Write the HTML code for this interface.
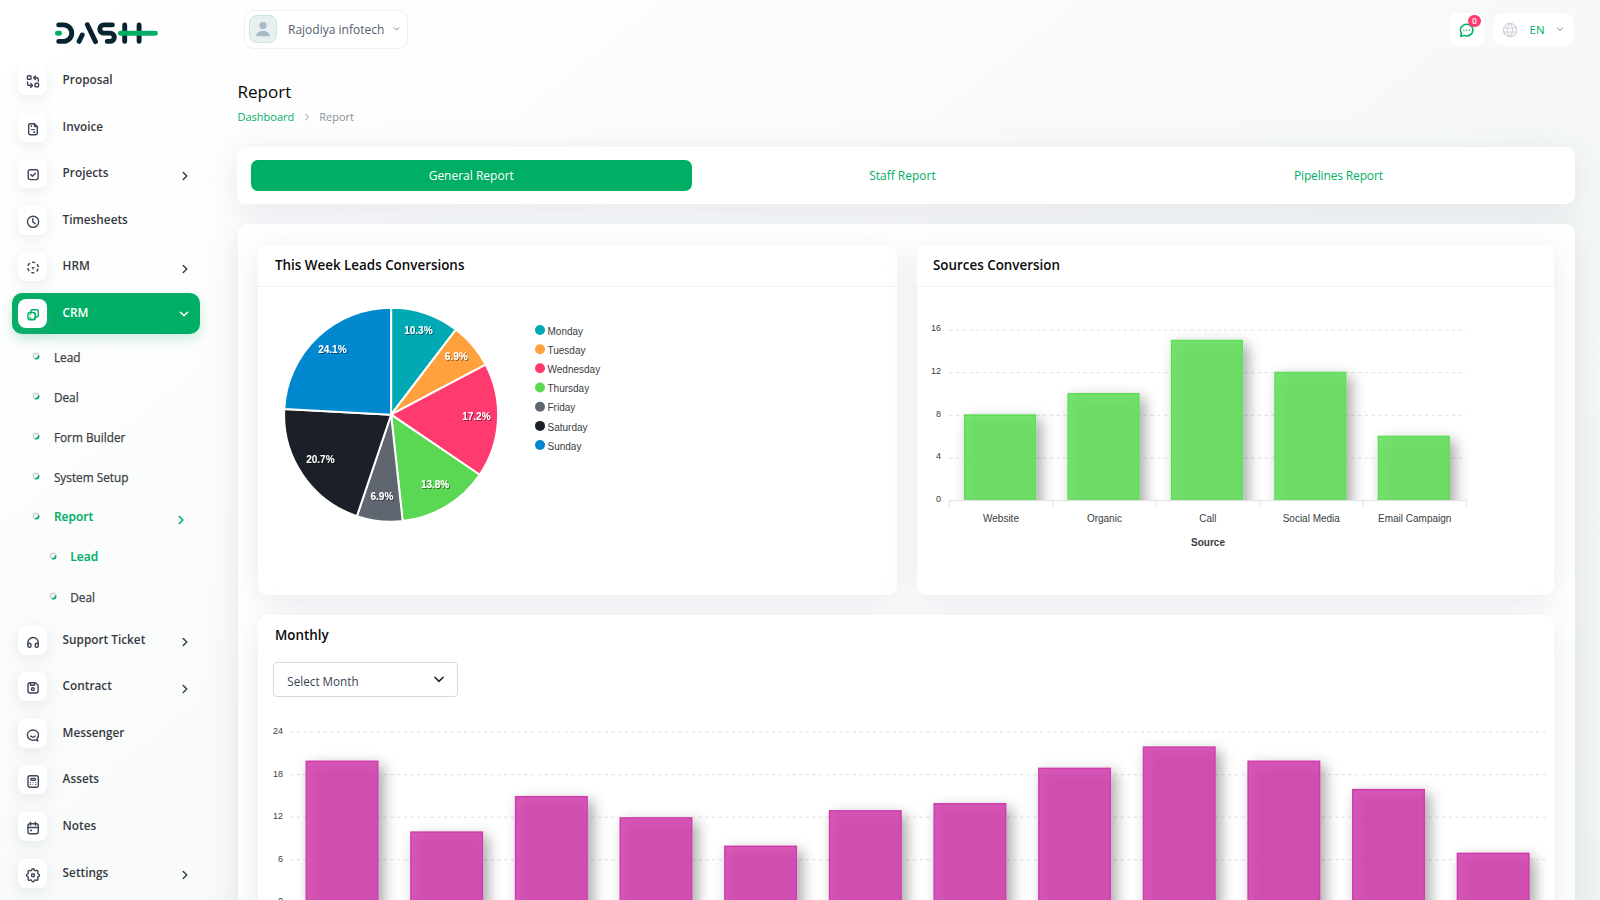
<!DOCTYPE html>
<html lang="en">
<head>
<meta charset="utf-8">
<title>Report</title>
<style>
*{box-sizing:border-box;margin:0;padding:0}
html,body{width:1600px;height:900px;overflow:hidden}
body{position:relative;background:#fff;font-family:"Open Sans","Liberation Sans",sans-serif;color:#293240;font-size:12px}
.bg{position:absolute;left:0;top:0;width:1600px;height:900px;background:linear-gradient(141.55deg,rgba(240,244,243,0) 3.46%,#f0f4f3 99.86%)}
.abs{position:absolute}
.logo{position:absolute;left:50px;top:15px}
.mi{position:absolute;left:12px;width:188px;height:41px;border-radius:10px}
.mi .ib{position:absolute;left:6px;top:6px;width:29px;height:29px;border-radius:8px;background:#fff;box-shadow:0 4px 15px rgba(150,160,170,.2)}
.mi .ib svg{position:absolute;left:0;top:0}
.mi .tx{position:absolute;left:50.6px;top:-1.0px;line-height:41px;font-size:11.8px;font-weight:600;color:#36393e;white-space:nowrap}
.mi .ch{position:absolute;left:166px;top:15.7px}
.mi.act{background:#00ae65;box-shadow:0 5px 12px rgba(0,174,101,.2)}
.mi.act .tx{color:#fff}
.mi.act .ch{left:164.7px;top:14.1px}
.si{position:absolute;height:20px;line-height:20px;font-size:11.8px;font-weight:400;color:#3b3e42;white-space:nowrap;-webkit-text-stroke:.25px currentColor}
.si .dot{position:absolute;left:0;top:4.9px;width:8px;height:8px}
.si .tx{position:absolute;top:0}
.si.g{color:#00ae65;font-weight:600;font-size:12px;-webkit-text-stroke:.15px currentColor}
.hbox{position:absolute;background:#fff;border-radius:10px}
.card{position:absolute;background:#fff;border-radius:9px}
.sh{box-shadow:0 6px 30px rgba(182,186,203,.3)}
.sh2{box-shadow:0 6px 30px rgba(182,186,203,.3)}
.card .hd{position:absolute;left:0;right:0;top:0;height:42px;border-bottom:1px solid #f1f1f1}
.card .ttl{position:absolute;left:17px;font-size:13.4px;font-weight:600;color:#0b0b0b;white-space:nowrap}
</style>
</head>
<body>
<div class="bg"></div>
<svg class="logo" width="112" height="34" viewBox="50 15 112 34" aria-label="Dash">
  <title>Dash</title>
  <g fill="none" stroke-linecap="round" stroke-width="4.9">
    <path d="M57.4 33.2h2.2" stroke="#00ae65"/>
    <path d="M58.7 24.9h4.8a8.25 8.25 0 0 1 0 16.5h-4.8" stroke="#082431"/>
    <path d="M79.1 41.4l3.1-6.4M87.4 24.7l8.1 16.9" stroke="#082431"/>
    <path d="M112.4 24.9h-8.5a4.1 4.1 0 0 0 0 8.2h6.2a4.15 4.15 0 0 1 0 8.3h-2.9" stroke="#082431"/>
    <path d="M124.7 24.9v16.5M139.1 24.9v16.5" stroke="#082431"/>
    <path d="M120.4 33.3h35" stroke="#00ae65"/>
  </g>
</svg>
<div class="abs" style="left:0;top:0;width:240px;height:900px;clip-path:inset(66.3px 0 0 0)">
<div class="mi" style="top:60px"><div class="ib"><svg width="30" height="30" viewBox="0 0 30 30" fill="none" stroke="#3d4757" stroke-width="1.4" stroke-linecap="round" stroke-linejoin="round"><rect x="9.4" y="9.7" width="3.6" height="3.6" rx=".8"/><rect x="17" y="17.2" width="3.6" height="3.6" rx=".8"/><path d="M20.3 15.2V13.2a1.5 1.5 0 0 0-1.5-1.5H16M17.5 9.9L15.7 11.7L17.5 13.5"/><path d="M9.6 16V18a1.5 1.5 0 0 0 1.5 1.5H14.5M12.8 17.6L14.6 19.4L12.8 21.2"/></svg></div><div class="tx">Proposal</div></div>
<div class="mi" style="top:106.6px"><div class="ib"><svg width="30" height="30" viewBox="0 0 30 30" fill="none" stroke="#3d4757" stroke-width="1.4" stroke-linecap="round" stroke-linejoin="round"><path d="M17.2 21.8H12.3a1.6 1.6 0 0 1-1.6-1.6V12.3a1.6 1.6 0 0 1 1.6-1.6H16.4L19.3 13.6V20.2a1.6 1.6 0 0 1-1.6 1.6Z"/><path d="M16.4 10.8v2.2a.6 .6 0 0 0 .6 .6h2.2"/><path d="M13.3 12.8v.6M15.6 19.3h1.2"/><rect x="13" y="16.1" width="4" height="1.1" fill="#3d4757" stroke="none"/></svg></div><div class="tx">Invoice</div></div>
<div class="mi" style="top:153.2px"><div class="ib"><svg width="30" height="30" viewBox="0 0 30 30" fill="none" stroke="#3d4757" stroke-width="1.4" stroke-linecap="round" stroke-linejoin="round"><rect x="10.2" y="10.7" width="9.9" height="9.9" rx="2"/><path d="M12.8 15.6L14.4 17.2L17.4 14.2"/></svg></div><div class="tx">Projects</div><svg class="ch" width="14" height="14" viewBox="0 0 24 24" fill="none" stroke="#3a4250" stroke-width="2.6" stroke-linecap="round" stroke-linejoin="round"><path d="M9 6l6 6l-6 6"/></svg></div>
<div class="mi" style="top:199.8px"><div class="ib"><svg width="30" height="30" viewBox="0 0 30 30" fill="none" stroke="#3d4757" stroke-width="1.4" stroke-linecap="round" stroke-linejoin="round"><circle cx="15.05" cy="15.8" r="5.6"/><path d="M14.8 12.6V15.9L17.2 17.8"/></svg></div><div class="tx">Timesheets</div></div>
<div class="mi" style="top:246.4px"><div class="ib"><svg width="30" height="30" viewBox="0 0 30 30" fill="none" stroke="#3d4757" stroke-width="1.4" stroke-linecap="round" stroke-linejoin="round"><circle cx="15" cy="15.4" r="5.25" stroke-dasharray="3.1 2.4" stroke-dashoffset="-1.2" stroke-linecap="butt" stroke-width="1.5"/><path d="M13.1 14.9h3.8l-1.3 1.4v1.3h-1.2v-1.3z" fill="#3d4757" stroke="none"/></svg></div><div class="tx">HRM</div><svg class="ch" width="14" height="14" viewBox="0 0 24 24" fill="none" stroke="#3a4250" stroke-width="2.6" stroke-linecap="round" stroke-linejoin="round"><path d="M9 6l6 6l-6 6"/></svg></div>
<div class="mi" style="top:619.5px"><div class="ib"><svg width="30" height="30" viewBox="0 0 30 30" fill="none" stroke="#3d4757" stroke-width="1.4" stroke-linecap="round" stroke-linejoin="round"><path d="M9.9 18.8V16.7a5.2 5.2 0 0 1 10.4 0V18.8"/><rect x="9.9" y="17.3" width="3.1" height="4" rx="1.4"/><rect x="17.2" y="17.3" width="3.1" height="4" rx="1.4"/></svg></div><div class="tx">Support Ticket</div><svg class="ch" width="14" height="14" viewBox="0 0 24 24" fill="none" stroke="#3a4250" stroke-width="2.6" stroke-linecap="round" stroke-linejoin="round"><path d="M9 6l6 6l-6 6"/></svg></div>
<div class="mi" style="top:666.1px"><div class="ib"><svg width="30" height="30" viewBox="0 0 30 30" fill="none" stroke="#3d4757" stroke-width="1.4" stroke-linecap="round" stroke-linejoin="round"><path d="M12 10.7H17.5L20.1 13.3V19a2 2 0 0 1-2 2H12a2 2 0 0 1-2-2V12.7a2 2 0 0 1 2-2Z"/><path d="M12.5 10.8V13.2H16.5V10.8"/><circle cx="14.9" cy="17.2" r="1.4"/></svg></div><div class="tx">Contract</div><svg class="ch" width="14" height="14" viewBox="0 0 24 24" fill="none" stroke="#3a4250" stroke-width="2.6" stroke-linecap="round" stroke-linejoin="round"><path d="M9 6l6 6l-6 6"/></svg></div>
<div class="mi" style="top:712.7px"><div class="ib"><svg width="30" height="30" viewBox="0 0 30 30" fill="none" stroke="#3d4757" stroke-width="1.4" stroke-linecap="round" stroke-linejoin="round"><path d="M16.8 20.9A5.6 5.1 0 1 1 18.9 19.7L20 21.8Z"/><path d="M12.6 17.1Q14.9 19.3 17.3 17.1"/></svg></div><div class="tx">Messenger</div></div>
<div class="mi" style="top:759.3px"><div class="ib"><svg width="30" height="30" viewBox="0 0 30 30" fill="none" stroke="#3d4757" stroke-width="1.4" stroke-linecap="round" stroke-linejoin="round"><rect x="10" y="10.7" width="10.3" height="11.6" rx="2"/><rect x="12.7" y="13.4" width="4.9" height="1.8" rx=".9"/><g fill="#3d4757" stroke="none"><circle cx="12.4" cy="17.5" r=".6"/><circle cx="17.6" cy="17.5" r=".6"/><circle cx="12.4" cy="19.4" r=".6"/><circle cx="17.6" cy="19.4" r=".6"/></g><path d="M14.6 17.5h1M14.6 19.4h1" stroke-width=".8" stroke="#9aa1ab"/></svg></div><div class="tx">Assets</div></div>
<div class="mi" style="top:805.9px"><div class="ib"><svg width="30" height="30" viewBox="0 0 30 30" fill="none" stroke="#3d4757" stroke-width="1.4" stroke-linecap="round" stroke-linejoin="round"><rect x="10" y="11.8" width="10.3" height="10" rx="2"/><path d="M12.5 10.3V13.2M17.5 10.3V13.2M10 15.5H20.3"/><rect x="12.1" y="17.6" width="1.9" height="1.7" rx=".4" fill="#3d4757" stroke="none"/></svg></div><div class="tx">Notes</div></div>
<div class="mi" style="top:852.5px"><div class="ib"><svg width="30" height="30" viewBox="0 0 30 30" fill="none" stroke="#3d4757" stroke-width="1.4" stroke-linecap="round" stroke-linejoin="round"><g transform="translate(15 16.3) scale(.72) translate(-12 -12)" stroke-width="1.95"><path d="M10.3 4.3c.4-1.8 2.9-1.8 3.4 0a1.7 1.7 0 0 0 2.6 1.1c1.5-.9 3.3.8 2.4 2.4a1.7 1.7 0 0 0 1 2.5c1.8.4 1.8 2.9 0 3.4a1.7 1.7 0 0 0-1 2.6c.9 1.5-.8 3.3-2.4 2.4a1.7 1.7 0 0 0-2.6 1c-.4 1.8-2.9 1.8-3.4 0a1.7 1.7 0 0 0-2.6-1c-1.5.9-3.3-.8-2.4-2.4a1.7 1.7 0 0 0-1-2.6c-1.8-.4-1.8-2.9 0-3.4a1.7 1.7 0 0 0 1-2.5c-.9-1.5.8-3.3 2.4-2.4a1.7 1.7 0 0 0 2.6-1.1"/><circle cx="12" cy="12" r="2.1"/></g></svg></div><div class="tx">Settings</div><svg class="ch" width="14" height="14" viewBox="0 0 24 24" fill="none" stroke="#3a4250" stroke-width="2.6" stroke-linecap="round" stroke-linejoin="round"><path d="M9 6l6 6l-6 6"/></svg></div>
<div class="mi act" style="top:293px"><div class="ib"><svg width="30" height="30" viewBox="0 0 30 30" fill="none" stroke="#00ae65" stroke-width="1.4" stroke-linecap="round" stroke-linejoin="round"><path d="M12.7 13.3V12.7a2 2 0 0 1 2-2H18.3a2 2 0 0 1 2 2V16a2 2 0 0 1-2 2H17.4"/><rect x="10" y="13.4" width="7.4" height="7.4" rx="2"/><path d="M12.1 14.6h1.5l-1.5 1.5zM16.9 14.6h-1.5l1.5 1.5zM12.1 19.4h1.5l-1.5-1.5zM16.9 19.4h-1.5l1.5-1.5z" fill="#00ae65" stroke-width=".5"/></svg></div><div class="tx">CRM</div><svg class="ch" width="14" height="14" viewBox="0 0 24 24" fill="none" stroke="#fff" stroke-width="2.6" stroke-linecap="round" stroke-linejoin="round"><path d="M6 9l6 6l6-6"/></svg></div>
<div class="si" style="top:347.1px;left:31.8px"><svg class="dot" width="8" height="8" viewBox="0 0 8 8"><circle cx="4" cy="4" r="2.7" fill="none" stroke="#cdd2da" stroke-width="1.5"/><path d="M6.7 4A2.7 2.7 0 0 1 4 6.7" fill="none" stroke="#00ae65" stroke-width="1.7" stroke-linecap="round"/></svg><span class="tx" style="left:22.1px">Lead</span></div>
<div class="si" style="top:387.1px;left:31.8px"><svg class="dot" width="8" height="8" viewBox="0 0 8 8"><circle cx="4" cy="4" r="2.7" fill="none" stroke="#cdd2da" stroke-width="1.5"/><path d="M6.7 4A2.7 2.7 0 0 1 4 6.7" fill="none" stroke="#00ae65" stroke-width="1.7" stroke-linecap="round"/></svg><span class="tx" style="left:22.1px">Deal</span></div>
<div class="si" style="top:427.1px;left:31.8px"><svg class="dot" width="8" height="8" viewBox="0 0 8 8"><circle cx="4" cy="4" r="2.7" fill="none" stroke="#cdd2da" stroke-width="1.5"/><path d="M6.7 4A2.7 2.7 0 0 1 4 6.7" fill="none" stroke="#00ae65" stroke-width="1.7" stroke-linecap="round"/></svg><span class="tx" style="left:22.1px">Form Builder</span></div>
<div class="si" style="top:467.1px;left:31.8px"><svg class="dot" width="8" height="8" viewBox="0 0 8 8"><circle cx="4" cy="4" r="2.7" fill="none" stroke="#cdd2da" stroke-width="1.5"/><path d="M6.7 4A2.7 2.7 0 0 1 4 6.7" fill="none" stroke="#00ae65" stroke-width="1.7" stroke-linecap="round"/></svg><span class="tx" style="left:22.1px">System Setup</span></div>
<div class="si g" style="top:507.1px;left:31.8px"><svg class="dot" width="8" height="8" viewBox="0 0 8 8"><circle cx="4" cy="4" r="2.7" fill="none" stroke="#cdd2da" stroke-width="1.5"/><path d="M6.7 4A2.7 2.7 0 0 1 4 6.7" fill="none" stroke="#00ae65" stroke-width="1.7" stroke-linecap="round"/></svg><span class="tx" style="left:22.1px">Report</span></div>
<div class="si g" style="top:547.1px;left:48.5px"><svg class="dot" width="8" height="8" viewBox="0 0 8 8"><circle cx="4" cy="4" r="2.7" fill="none" stroke="#cdd2da" stroke-width="1.5"/><path d="M6.7 4A2.7 2.7 0 0 1 4 6.7" fill="none" stroke="#00ae65" stroke-width="1.7" stroke-linecap="round"/></svg><span class="tx" style="left:21.8px">Lead</span></div>
<div class="si" style="top:587.1px;left:48.5px"><svg class="dot" width="8" height="8" viewBox="0 0 8 8"><circle cx="4" cy="4" r="2.7" fill="none" stroke="#cdd2da" stroke-width="1.5"/><path d="M6.7 4A2.7 2.7 0 0 1 4 6.7" fill="none" stroke="#00ae65" stroke-width="1.7" stroke-linecap="round"/></svg><span class="tx" style="left:21.8px">Deal</span></div>
<svg class="abs" style="left:173.7px;top:513px" width="14" height="14" viewBox="0 0 24 24" fill="none" stroke="#00ae65" stroke-width="2.6" stroke-linecap="round" stroke-linejoin="round"><path d="M9 6l6 6l-6 6"/></svg>
</div>

<div class="hbox" style="left:244px;top:10px;width:164px;height:38.5px;border:1px solid #eef0f1">
  <div class="abs" style="left:3.5px;top:3.5px;width:28px;height:28px;border-radius:8px;background:#e9eef0;border:1.5px solid #c4ebd6;overflow:hidden">
    <svg class="abs" style="left:0;top:0" width="26" height="26" viewBox="0 0 26 26"><circle cx="13" cy="9.6" r="3.6" fill="#a6bcc5"/><path d="M6.2 20.2c0-3.6 3-5.2 6.8-5.2s6.8 1.6 6.8 5.2z" fill="#a6bcc5"/></svg>
  </div>
  <div class="abs" style="left:43px;top:1px;line-height:36px;font-size:12px;color:#56606f;white-space:nowrap">Rajodiya infotech</div>
  <svg class="abs" style="left:147px;top:14px" width="9" height="8" viewBox="0 0 24 24" fill="none" stroke="#5b6472" stroke-width="2.4" stroke-linecap="round" stroke-linejoin="round"><path d="M5 8l7 7l7-7"/></svg>
</div>
<div class="hbox" style="left:1449px;top:12.5px;width:35px;height:33px;border-radius:9px">
  <svg class="abs" style="left:9px;top:9px" width="17" height="17" viewBox="0 0 17 17" fill="none" stroke="#00ae65" stroke-width="1.5" stroke-linecap="round" stroke-linejoin="round">
    <path d="M2.6 14.4l1-2.9A6.3 5.8 0 1 1 6.2 13.4z"/>
    <circle cx="5.9" cy="8.2" r=".72" fill="#00ae65" stroke="none"/><circle cx="8.7" cy="8.2" r=".72" fill="#00ae65" stroke="none"/><circle cx="11.5" cy="8.2" r=".72" fill="#00ae65" stroke="none"/>
  </svg>
  <div class="abs" style="left:19.2px;top:2.1px;width:12.6px;height:12.4px;border-radius:50%;background:#ff3a6e;color:#fff;font-size:8.6px;font-weight:600;line-height:12.4px;text-align:center">0</div>
</div>
<div class="hbox" style="left:1493px;top:12.5px;width:81px;height:33px;border-radius:10px">
  <svg class="abs" style="left:9px;top:9.5px" width="16" height="16" viewBox="0 0 24 24" fill="none" stroke="#cbd0d5" stroke-width="1.6" stroke-linecap="round" stroke-linejoin="round">
    <circle cx="12" cy="12" r="10"/><path d="M2.6 9h18.8M2.6 15h18.8"/><path d="M11.5 2a17 17 0 0 0 0 20M12.5 2a17 17 0 0 1 0 20"/>
  </svg>
  <div class="abs" style="left:36.5px;top:0;line-height:33px;font-size:11.5px;font-weight:500;color:#00ae65">EN</div>
  <svg class="abs" style="left:62.5px;top:13.5px" width="8" height="7" viewBox="0 0 24 24" fill="none" stroke="#5b6472" stroke-width="2.6" stroke-linecap="round" stroke-linejoin="round"><path d="M3 7l9 9l9-9"/></svg>
</div>
<div class="abs" style="left:237.4px;top:80px;font-size:17.1px;font-weight:500;color:#080808;line-height:24px">Report</div>
<div class="abs" style="left:237.5px;top:109px;font-size:11px;line-height:16px;white-space:nowrap"><span style="color:#00ae65">Dashboard</span><svg style="margin:0 8px 0 9px;vertical-align:-1px" width="8" height="10" viewBox="0 0 24 24" fill="none" stroke="#7d858f" stroke-width="2.6" stroke-linecap="round" stroke-linejoin="round"><path d="M8 4l8 8l-8 8"/></svg><span style="color:#8a929c">Report</span></div>

<div class="card sh" style="left:237px;top:146.6px;width:1338px;height:57.2px"></div>
<div class="abs" style="left:251px;top:159.7px;width:440.5px;height:31px;border-radius:7px;background:#00ae65;color:#fff;text-align:center;line-height:31px;font-size:12px">General Report</div>
<div class="abs" style="left:691.5px;top:159.7px;width:421.9px;height:31px;color:#00ae65;text-align:center;line-height:31px;font-size:12px">Staff Report</div>
<div class="abs" style="left:1114.6px;top:160px;width:447.6px;height:31px;color:#00ae65;text-align:center;line-height:31px;font-size:12px;letter-spacing:-.15px">Pipelines Report</div>
<div class="card sh" style="left:237.5px;top:224.2px;width:1337.5px;height:700px"></div>
<div class="card sh2" style="left:258px;top:244.5px;width:639px;height:350.5px"><div class="hd"></div><div class="ttl" style="top:0;line-height:40px">This Week Leads Conversions</div></div>
<div class="card sh2" style="left:917px;top:244.5px;width:637px;height:350.5px"><div class="hd"></div><div class="ttl" style="top:0;line-height:40px;left:16px">Sources Conversion</div></div>
<div class="card sh2" style="left:258px;top:614.7px;width:1296px;height:320px"><div class="ttl" style="top:0;line-height:40px">Monthly</div><div class="abs" style="left:15px;top:47.8px;width:184.5px;height:34.6px;border:1px solid #d5dbe2;border-radius:4px;background:#fff"><div class="abs" style="left:13.3px;top:1.3px;line-height:32px;font-size:11.7px;color:#3a4555">Select Month</div><svg class="abs" style="left:159px;top:12px" width="12" height="9" viewBox="0 0 16 12" fill="none" stroke="#1d232c" stroke-width="2" stroke-linecap="round" stroke-linejoin="round"><path d="M2.5 3l5.5 5.5l5.5-5.5"/></svg></div></div>
<svg class="abs" style="left:0;top:0" width="1600" height="900" viewBox="0 0 1600 900" font-family="Liberation Sans, Arial, Helvetica, sans-serif">
<defs><filter id="bsh" x="-40%" y="-20%" width="200%" height="150%"><feDropShadow dx="5" dy="5" stdDeviation="7" flood-color="#000" flood-opacity="0.4"/></filter><filter id="tsh" x="-20%" y="-30%" width="150%" height="170%"><feDropShadow dx="1" dy="1" stdDeviation="0.7" flood-color="#000" flood-opacity="0.45"/></filter><clipPath id="c1"><rect x="940" y="300" width="560" height="200.6"/></clipPath><clipPath id="c2"><rect x="280" y="700" width="1280" height="200"/></clipPath></defs>
<path d="M391.1 414.7L391.10 307.70A107 107 0 0 1 455.85 329.52Z" fill="#00a9b4" stroke="#fff" stroke-width="2" stroke-linejoin="round"/>
<path d="M391.1 414.7L455.85 329.52A107 107 0 0 1 485.64 364.58Z" fill="#ffa13c" stroke="#fff" stroke-width="2" stroke-linejoin="round"/>
<path d="M391.1 414.7L485.64 364.58A107 107 0 0 1 479.66 474.75Z" fill="#ff3a6e" stroke="#fff" stroke-width="2" stroke-linejoin="round"/>
<path d="M391.1 414.7L479.66 474.75A107 107 0 0 1 402.67 521.07Z" fill="#5ad753" stroke="#fff" stroke-width="2" stroke-linejoin="round"/>
<path d="M391.1 414.7L402.67 521.07A107 107 0 0 1 356.93 516.10Z" fill="#5f6670" stroke="#fff" stroke-width="2" stroke-linejoin="round"/>
<path d="M391.1 414.7L356.93 516.10A107 107 0 0 1 284.26 408.91Z" fill="#1a1f28" stroke="#fff" stroke-width="2" stroke-linejoin="round"/>
<path d="M391.1 414.7L284.26 408.91A107 107 0 0 1 391.10 307.70Z" fill="#0188cf" stroke="#fff" stroke-width="2" stroke-linejoin="round"/>
<text x="418.4" y="334.1" text-anchor="middle" font-size="10" font-weight="700" fill="#fff" filter="url(#tsh)">10.3%</text>
<text x="456.2" y="359.7" text-anchor="middle" font-size="10" font-weight="700" fill="#fff" filter="url(#tsh)">6.9%</text>
<text x="476.4" y="419.6" text-anchor="middle" font-size="10" font-weight="700" fill="#fff" filter="url(#tsh)">17.2%</text>
<text x="435.1" y="488.2" text-anchor="middle" font-size="10" font-weight="700" fill="#fff" filter="url(#tsh)">13.8%</text>
<text x="381.9" y="499.9" text-anchor="middle" font-size="10" font-weight="700" fill="#fff" filter="url(#tsh)">6.9%</text>
<text x="320.4" y="462.9" text-anchor="middle" font-size="10" font-weight="700" fill="#fff" filter="url(#tsh)">20.7%</text>
<text x="332.4" y="353.0" text-anchor="middle" font-size="10" font-weight="700" fill="#fff" filter="url(#tsh)">24.1%</text>
<circle cx="540" cy="330.0" r="5" fill="#00a9b4"/><text x="547.5" y="334.6" font-size="10" fill="#373d3f">Monday</text>
<circle cx="540" cy="349.2" r="5" fill="#ffa13c"/><text x="547.5" y="353.8" font-size="10" fill="#373d3f">Tuesday</text>
<circle cx="540" cy="368.3" r="5" fill="#ff3a6e"/><text x="547.5" y="372.9" font-size="10" fill="#373d3f">Wednesday</text>
<circle cx="540" cy="387.5" r="5" fill="#5ad753"/><text x="547.5" y="392.1" font-size="10" fill="#373d3f">Thursday</text>
<circle cx="540" cy="406.7" r="5" fill="#5f6670"/><text x="547.5" y="411.3" font-size="10" fill="#373d3f">Friday</text>
<circle cx="540" cy="425.9" r="5" fill="#1a1f28"/><text x="547.5" y="430.5" font-size="10" fill="#373d3f">Saturday</text>
<circle cx="540" cy="445.0" r="5" fill="#0188cf"/><text x="547.5" y="449.6" font-size="10" fill="#373d3f">Sunday</text>
<line x1="949.3" y1="330.0" x2="1466.4" y2="330.0" stroke="#e0e0e0" stroke-dasharray="3.5 3.2"/>
<text x="941" y="331.2" text-anchor="end" font-size="9" fill="#373d3f">16</text>
<line x1="949.3" y1="372.7" x2="1466.4" y2="372.7" stroke="#e0e0e0" stroke-dasharray="3.5 3.2"/>
<text x="941" y="373.9" text-anchor="end" font-size="9" fill="#373d3f">12</text>
<line x1="949.3" y1="415.3" x2="1466.4" y2="415.3" stroke="#e0e0e0" stroke-dasharray="3.5 3.2"/>
<text x="941" y="416.5" text-anchor="end" font-size="9" fill="#373d3f">8</text>
<line x1="949.3" y1="458.0" x2="1466.4" y2="458.0" stroke="#e0e0e0" stroke-dasharray="3.5 3.2"/>
<text x="941" y="459.2" text-anchor="end" font-size="9" fill="#373d3f">4</text>
<text x="941" y="501.8" text-anchor="end" font-size="9" fill="#373d3f">0</text>
<g clip-path="url(#c1)">
<rect x="964.75" y="415.07" width="70.7" height="91.3" fill="#5fdd58" fill-opacity="0.85" stroke="#5fdd58" stroke-width="1.5" filter="url(#bsh)"/>
<rect x="1068.17" y="393.75" width="70.7" height="112.6" fill="#5fdd58" fill-opacity="0.85" stroke="#5fdd58" stroke-width="1.5" filter="url(#bsh)"/>
<rect x="1171.59" y="340.45" width="70.7" height="165.9" fill="#5fdd58" fill-opacity="0.85" stroke="#5fdd58" stroke-width="1.5" filter="url(#bsh)"/>
<rect x="1275.01" y="372.43" width="70.7" height="133.9" fill="#5fdd58" fill-opacity="0.85" stroke="#5fdd58" stroke-width="1.5" filter="url(#bsh)"/>
<rect x="1378.43" y="436.39" width="70.7" height="70.0" fill="#5fdd58" fill-opacity="0.85" stroke="#5fdd58" stroke-width="1.5" filter="url(#bsh)"/>
</g>
<line x1="949.3" y1="500.6" x2="1466.4" y2="500.6" stroke="#e0e0e0"/>
<line x1="949.3" y1="500.6" x2="949.3" y2="506.6" stroke="#e0e0e0"/>
<line x1="1052.7" y1="500.6" x2="1052.7" y2="506.6" stroke="#e0e0e0"/>
<line x1="1156.1" y1="500.6" x2="1156.1" y2="506.6" stroke="#e0e0e0"/>
<line x1="1259.6" y1="500.6" x2="1259.6" y2="506.6" stroke="#e0e0e0"/>
<line x1="1363.0" y1="500.6" x2="1363.0" y2="506.6" stroke="#e0e0e0"/>
<line x1="1466.4" y1="500.6" x2="1466.4" y2="506.6" stroke="#e0e0e0"/>
<text x="1001.0" y="521.5" text-anchor="middle" font-size="10" fill="#373d3f">Website</text>
<text x="1104.4" y="521.5" text-anchor="middle" font-size="10" fill="#373d3f">Organic</text>
<text x="1207.9" y="521.5" text-anchor="middle" font-size="10" fill="#373d3f">Call</text>
<text x="1311.3" y="521.5" text-anchor="middle" font-size="10" fill="#373d3f">Social Media</text>
<text x="1414.7" y="521.5" text-anchor="middle" font-size="10" fill="#373d3f">Email Campaign</text>
<text x="1208" y="545.5" text-anchor="middle" font-size="10" font-weight="700" fill="#373d3f">Source</text>
<line x1="289.7" y1="732.2" x2="1545.5" y2="732.2" stroke="#e0e0e0" stroke-dasharray="3.5 3.2"/>
<text x="283" y="734.0" text-anchor="end" font-size="9" fill="#373d3f">24</text>
<line x1="289.7" y1="774.7" x2="1545.5" y2="774.7" stroke="#e0e0e0" stroke-dasharray="3.5 3.2"/>
<text x="283" y="776.5" text-anchor="end" font-size="9" fill="#373d3f">18</text>
<line x1="289.7" y1="817.2" x2="1545.5" y2="817.2" stroke="#e0e0e0" stroke-dasharray="3.5 3.2"/>
<text x="283" y="819.0" text-anchor="end" font-size="9" fill="#373d3f">12</text>
<line x1="289.7" y1="859.7" x2="1545.5" y2="859.7" stroke="#e0e0e0" stroke-dasharray="3.5 3.2"/>
<text x="283" y="861.5" text-anchor="end" font-size="9" fill="#373d3f">6</text>
<text x="283" y="904.0" text-anchor="end" font-size="9" fill="#373d3f">0</text>
<g clip-path="url(#c2)">
<rect x="306.27" y="761.29" width="71.5" height="151.7" fill="#cf3dab" fill-opacity="0.85" stroke="#cf3dab" stroke-width="1.5" filter="url(#bsh)"/>
<rect x="410.92" y="832.12" width="71.5" height="80.8" fill="#cf3dab" fill-opacity="0.85" stroke="#cf3dab" stroke-width="1.5" filter="url(#bsh)"/>
<rect x="515.58" y="796.71" width="71.5" height="116.2" fill="#cf3dab" fill-opacity="0.85" stroke="#cf3dab" stroke-width="1.5" filter="url(#bsh)"/>
<rect x="620.23" y="817.95" width="71.5" height="95.0" fill="#cf3dab" fill-opacity="0.85" stroke="#cf3dab" stroke-width="1.5" filter="url(#bsh)"/>
<rect x="724.88" y="846.29" width="71.5" height="66.7" fill="#cf3dab" fill-opacity="0.85" stroke="#cf3dab" stroke-width="1.5" filter="url(#bsh)"/>
<rect x="829.53" y="810.87" width="71.5" height="102.1" fill="#cf3dab" fill-opacity="0.85" stroke="#cf3dab" stroke-width="1.5" filter="url(#bsh)"/>
<rect x="934.17" y="803.79" width="71.5" height="109.2" fill="#cf3dab" fill-opacity="0.85" stroke="#cf3dab" stroke-width="1.5" filter="url(#bsh)"/>
<rect x="1038.83" y="768.37" width="71.5" height="144.6" fill="#cf3dab" fill-opacity="0.85" stroke="#cf3dab" stroke-width="1.5" filter="url(#bsh)"/>
<rect x="1143.47" y="747.12" width="71.5" height="165.8" fill="#cf3dab" fill-opacity="0.85" stroke="#cf3dab" stroke-width="1.5" filter="url(#bsh)"/>
<rect x="1248.12" y="761.29" width="71.5" height="151.7" fill="#cf3dab" fill-opacity="0.85" stroke="#cf3dab" stroke-width="1.5" filter="url(#bsh)"/>
<rect x="1352.78" y="789.62" width="71.5" height="123.3" fill="#cf3dab" fill-opacity="0.85" stroke="#cf3dab" stroke-width="1.5" filter="url(#bsh)"/>
<rect x="1457.42" y="853.37" width="71.5" height="59.6" fill="#cf3dab" fill-opacity="0.85" stroke="#cf3dab" stroke-width="1.5" filter="url(#bsh)"/>
</g>
</svg>
</body>
</html>
